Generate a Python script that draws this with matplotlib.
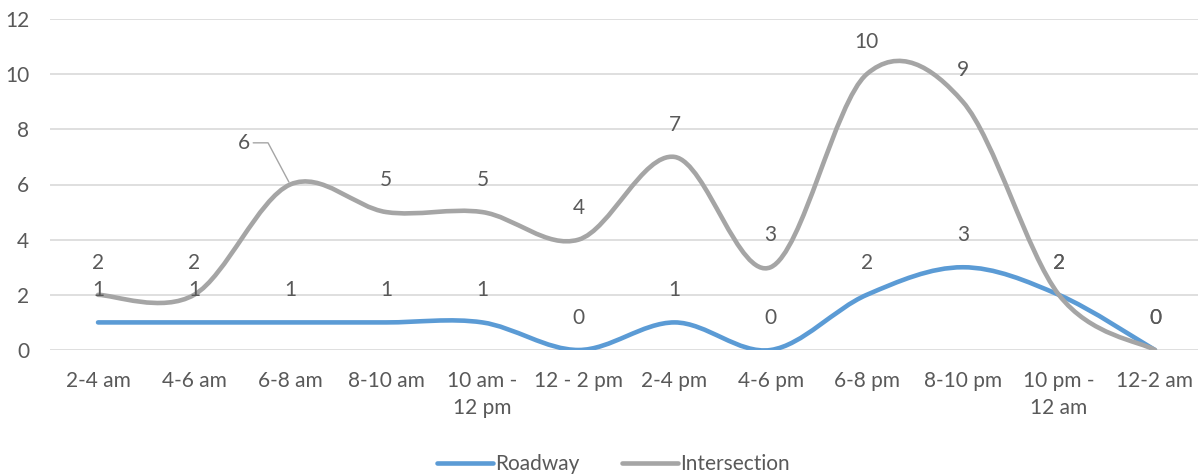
import numpy as np
import matplotlib.pyplot as plt
from matplotlib.path import Path
from matplotlib.patches import PathPatch
from matplotlib.lines import Line2D

plt.rcParams['font.family'] = ['Lato', 'DejaVu Sans']

periods = ['2-4 am', '4-6 am', '6-8 am', '8-10 am', '10 am -\n12 pm', '12 - 2 pm',
           '2-4 pm', '4-6 pm', '6-8 pm', '8-10 pm', '10 pm -\n12 am', '12-2 am']
roadway = [1, 1, 1, 1, 1, 0, 1, 0, 2, 3, 2, 0]
intersection = [2, 2, 6, 5, 5, 4, 7, 3, 10, 9, 2, 0]

BLUE = '#5B9BD5'
GRAY = '#A5A5A5'
TEXT = '#595959'
FS = 15


def smooth_path(xs, ys):
    # cardinal spline through the points, drawn as cubic bezier segments
    pts = np.column_stack([xs, ys]).astype(float)
    n = len(pts)
    verts = [pts[0]]
    codes = [Path.MOVETO]
    for i in range(n - 1):
        p0 = pts[max(i - 1, 0)]
        p1 = pts[i]
        p2 = pts[i + 1]
        p3 = pts[min(i + 2, n - 1)]
        c1 = p1 + (p2 - p0) / 6
        c2 = p2 - (p3 - p1) / 6
        verts += [c1, c2, p2]
        codes += [Path.CURVE4] * 3
    return Path(verts, codes)


fig = plt.figure(figsize=(11.98, 4.74), dpi=100)
ax = fig.add_axes([50 / 1198, 124 / 474, 1153 / 1198, 331 / 474])

x = np.arange(len(periods))
for vals, col in [(roadway, BLUE), (intersection, GRAY)]:
    ax.add_patch(PathPatch(smooth_path(x, vals), facecolor='none', edgecolor=col,
                           lw=3.3, capstyle='round', joinstyle='round', zorder=3))

# data labels above each point
for xi, v in zip(x, roadway):
    ax.annotate(str(v), (xi, v), xytext=(0, 23), textcoords='offset points',
                ha='center', va='center', fontsize=FS, color=TEXT, zorder=5)
for xi, v in zip(x, intersection):
    if xi == 2:
        ax.annotate(str(v), (xi, v), xytext=(-33, 30), textcoords='offset points',
                    ha='center', va='center', fontsize=FS, color=TEXT, zorder=5,
                    arrowprops=dict(arrowstyle='-', color=GRAY, lw=1, relpos=(1, 0.5),
                                    shrinkA=0, shrinkB=2,
                                    connectionstyle='angle,angleA=0,angleB=118,rad=0'))
    else:
        ax.annotate(str(v), (xi, v), xytext=(0, 23), textcoords='offset points',
                    ha='center', va='center', fontsize=FS, color=TEXT, zorder=5)

ax.set_xlim(-0.5, len(periods) - 0.5)
ax.set_ylim(0, 12)
ax.set_yticks(range(0, 13, 2))
ax.set_xticks(x)
ax.set_xticklabels(periods, linespacing=1.45)
ax.tick_params(axis='both', length=0, labelsize=FS, labelcolor=TEXT)
ax.tick_params(axis='x', pad=15)
ax.tick_params(axis='y', pad=15)
ax.grid(axis='y', color='#D9D9D9', lw=1.2)
ax.set_axisbelow(True)
for s in ax.spines.values():
    s.set_visible(False)

handles = [Line2D([], [], color=BLUE, lw=3.3, solid_capstyle='round'),
           Line2D([], [], color=GRAY, lw=3.3, solid_capstyle='round')]
fig.legend(handles, ['Roadway', 'Intersection'], loc='lower center',
           bbox_to_anchor=(0.512, -0.04), ncol=2, frameon=False, fontsize=FS,
           labelcolor=TEXT, handlelength=2.7, handletextpad=0.1, columnspacing=2.0)

fig.savefig('out.png', dpi=100)
